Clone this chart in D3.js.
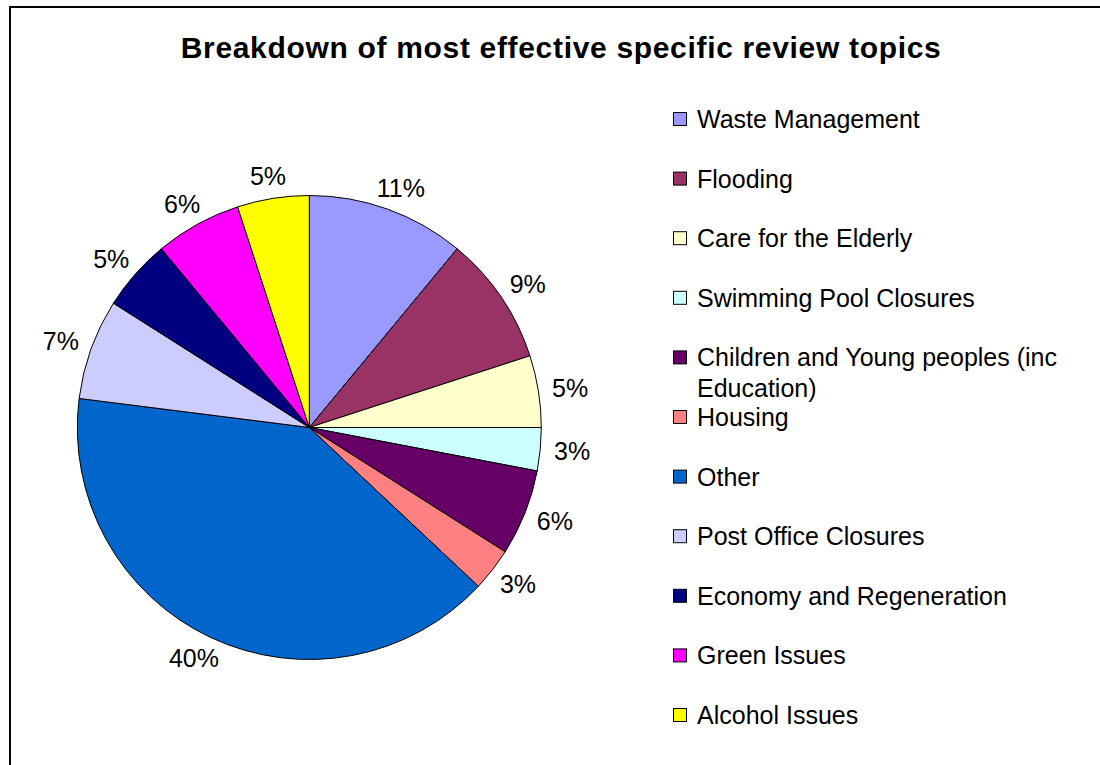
<!DOCTYPE html>
<html>
<head>
<meta charset="utf-8">
<script src="https://cdn.jsdelivr.net/npm/d3@7"></script>
<style>
  html, body { margin: 0; padding: 0; background: #fff; }
  svg { display: block; }
  text { font-family: "Liberation Sans", Arial, sans-serif; fill: #000; }
</style>
</head>
<body>
<svg id="chart" width="1100" height="765"></svg>
<script>
// Review topics, in drawing order (clockwise from 12 o'clock)
const categories = [
  "Waste Management",
  "Flooding",
  "Care for the Elderly",
  "Swimming Pool Closures",
  "Children and Young peoples (inc Education)",
  "Housing",
  "Other",
  "Post Office Closures",
  "Economy and Regeneration",
  "Green Issues",
  "Alcohol Issues"
];

// Share of responses, percent
const shares = [11, 9, 5, 3, 6, 3, 40, 7, 5, 6, 5];

const sliceColors = [
  "#9999FF", "#993366", "#FFFFCC", "#CCFFFF", "#660066", "#FF8080",
  "#0066CC", "#CCCCFF", "#000080", "#FF00FF", "#FFFF00"
];

const chartTitle = "Breakdown of most effective specific review topics";

const svg = d3.select("#chart");

// Frame (left and top edges of the chart area)
svg.append("path")
  .attr("d", "M10,765 V7 H1100")
  .attr("fill", "none")
  .attr("stroke", "#000")
  .attr("stroke-width", 2);

// Title
svg.append("text")
  .attr("x", 560.7)
  .attr("y", 58.3)
  .attr("text-anchor", "middle")
  .attr("font-weight", "bold")
  .attr("font-size", "30px")
  .attr("textLength", 760)
  .attr("lengthAdjust", "spacing")
  .text(chartTitle);

// Pie
const cx = 309.3, cy = 427.5, R = 232;
const color = d3.scaleOrdinal().domain(categories).range(sliceColors);

const pie = d3.pie().sort(null).value(d => d.value);
const data = categories.map((c, i) => ({ name: c, value: shares[i] }));
const arcs = pie(data);
const arc = d3.arc().innerRadius(0).outerRadius(R);

const g = svg.append("g").attr("transform", `translate(${cx},${cy})`);

g.selectAll("path.slice")
  .data(arcs)
  .join("path")
  .attr("class", "slice")
  .attr("d", arc)
  .attr("fill", d => color(d.data.name))
  .attr("stroke", "#000")
  .attr("stroke-width", 1)
  .attr("stroke-linejoin", "round");

// Percentage labels just outside each slice
const labelFont = 25;
const capH = labelFont * 0.716;
const gap = 14;
const labels = g.selectAll("text.pct")
  .data(arcs)
  .join("text")
  .attr("class", "pct")
  .attr("font-size", labelFont + "px")
  .attr("text-anchor", "middle")
  .text(d => d3.format(".0f")(d.data.value) + "%");

labels.each(function(d) {
  const a = (d.startAngle + d.endAngle) / 2;
  const dx = Math.sin(a), dy = -Math.cos(a);
  const w = this.getComputedTextLength();
  const px = dx * (R + gap) + dx * w / 2;
  const py = dy * (R + gap) + dy * capH / 2;
  d3.select(this).attr("x", px).attr("y", py + capH / 2);
});

// Legend
const legend = svg.append("g");
const legendX = 673, rowY0 = 119, rowStep = 59.6, lineStep = 31, wrapWidth = 380;
const items = legend.selectAll("g.item")
  .data(categories)
  .join("g")
  .attr("class", "item")
  .attr("transform", (d, i) => `translate(${legendX},${rowY0 + i * rowStep})`);

items.append("rect")
  .attr("x", 0.5)
  .attr("y", -6.5)
  .attr("width", 13)
  .attr("height", 13)
  .attr("fill", d => color(d))
  .attr("stroke", "#000")
  .attr("stroke-width", 1);

items.append("text")
  .attr("x", 24)
  .attr("y", capH / 2)
  .attr("font-size", labelFont + "px")
  .each(function(d) {
    const t = d3.select(this);
    const words = d.split(" ");
    let line = [];
    let tspan = t.append("tspan").attr("x", 24).attr("dy", 0);
    words.forEach(wd => {
      line.push(wd);
      tspan.text(line.join(" "));
      if (tspan.node().getComputedTextLength() > wrapWidth && line.length > 1) {
        line.pop();
        tspan.text(line.join(" "));
        line = [wd];
        tspan = t.append("tspan").attr("x", 24).attr("dy", lineStep).text(wd);
      }
    });
  });
</script>
</body>
</html>
